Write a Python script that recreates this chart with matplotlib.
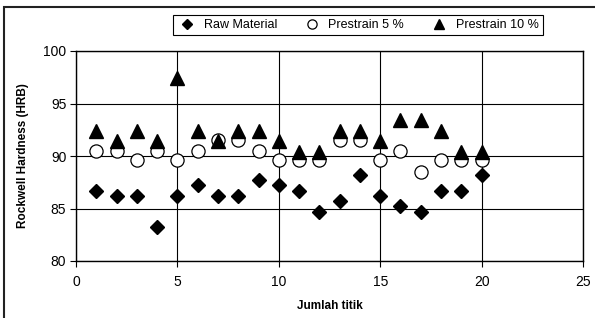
import matplotlib.pyplot as plt
from matplotlib.patches import Rectangle

plt.rcParams['font.family'] = ['Liberation Sans', 'DejaVu Sans']

# Data
titik = list(range(1, 21))
raw_material = [86.7, 86.2, 86.2, 83.2, 86.2, 87.2, 86.2, 86.2, 87.7, 87.2,
                86.7, 84.7, 85.7, 88.2, 86.2, 85.2, 84.7, 86.7, 86.7, 88.2]
prestrain_5 = [90.5, 90.5, 89.6, 90.5, 89.6, 90.5, 91.5, 91.5, 90.5, 89.6,
               89.6, 89.6, 91.5, 91.5, 89.6, 90.5, 88.5, 89.6, 89.6, 89.6]
prestrain_10 = [92.4, 91.4, 92.4, 91.4, 97.4, 92.4, 91.4, 92.4, 92.4, 91.4,
                90.4, 90.4, 92.4, 92.4, 91.4, 93.4, 93.4, 92.4, 90.4, 90.4]

fig = plt.figure(figsize=(5.95, 3.18), dpi=100)
ax = fig.add_axes([76 / 595, 57 / 318, 507 / 595, 210 / 318])

ax.plot(titik, raw_material, 'D', color='black', markersize=7.5, linestyle='none',
        label='Raw Material', zorder=3)
ax.plot(titik, prestrain_5, 'o', markerfacecolor='white', markeredgecolor='black',
        markeredgewidth=0.9, markersize=9.5, linestyle='none', label='Prestrain 5 %', zorder=4)
ax.plot(titik, prestrain_10, '^', color='black', markersize=10.5, linestyle='none',
        label='Prestrain 10 %', zorder=5)

ax.set_xlim(0, 25)
ax.set_ylim(80, 100)
ax.set_xticks(range(0, 26, 5))
ax.set_yticks(range(80, 101, 5))
ax.grid(True, color='black', linewidth=0.8)
ax.set_axisbelow(True)
for s in ax.spines.values():
    s.set_linewidth(1.0)
ax.tick_params(axis='both', direction='out', length=4, width=0.8, labelsize=10, pad=3)
ax.tick_params(axis='x', pad=6)

ax.set_xlabel('Jumlah titik', fontsize=8.5, fontweight='bold', labelpad=8)
ax.set_ylabel('Rockwell Hardness (HRB)', fontsize=8.5, fontweight='bold', labelpad=10)

leg = fig.legend(loc='center', bbox_to_anchor=(358 / 595, 1 - 25 / 318), ncol=3,
                 fontsize=9, frameon=True, fancybox=False, edgecolor='black',
                 framealpha=1, markerscale=0.7, borderpad=0.35, handlelength=1.5,
                 handletextpad=0.6, columnspacing=2.0, borderaxespad=0)
leg.get_frame().set_linewidth(0.8)

# Outer chart frame (only top and left edges are visible in the reference)
frame_top = 1 - 7 / 318
fig.patches.append(Rectangle((4 / 595, -0.2), 1.2, frame_top + 0.2, transform=fig.transFigure,
                             fill=False, edgecolor='#222222', linewidth=1.5, clip_on=False))

fig.savefig('out.png', dpi=100)
